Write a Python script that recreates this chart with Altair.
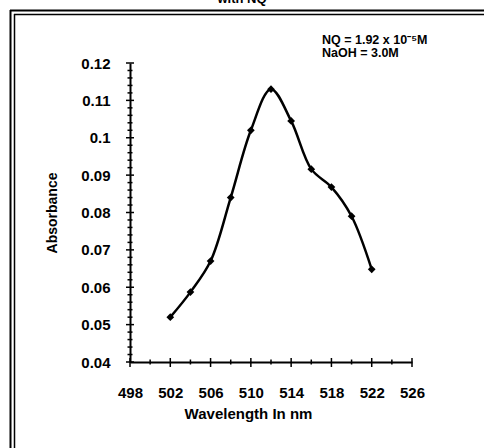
import altair as alt
import pandas as pd

wavelength = [502, 504, 506, 508, 510, 512, 514, 516, 518, 520, 522]
absorbance = [0.052, 0.0587, 0.067, 0.084, 0.102, 0.113, 0.1045, 0.0916, 0.0868, 0.079, 0.0648]

x_major = [498, 502, 506, 510, 514, 518, 522, 526]
x_minor = [500, 504, 508, 512, 516, 520, 524]
y_major = [0.04, 0.05, 0.06, 0.07, 0.08, 0.09, 0.1, 0.11, 0.12]
y_minor = [0.042, 0.044, 0.046, 0.048, 0.052, 0.054, 0.056, 0.058,
           0.062, 0.064, 0.066, 0.068, 0.072, 0.074, 0.076, 0.078,
           0.082, 0.084, 0.086, 0.088, 0.092, 0.094, 0.096, 0.098,
           0.102, 0.104, 0.106, 0.108, 0.112, 0.114, 0.116, 0.118]

note_line1 = "NQ = 1.92  x 10\u207b\u2075M"
note_line2 = "NaOH = 3.0M"
top_title = "with NQ"

df = pd.DataFrame({"wl": wavelength, "abs": absorbance})
FONT = "Liberation Sans"

x_scale = alt.Scale(domain=[498, 526], nice=False, zero=False)
y_scale = alt.Scale(domain=[0.04, 0.12], nice=False, zero=False)
x_axis = alt.Axis(
    values=x_major,
    ticks=False,
    tickSize=0,
    labelOverlap=False,
    labelFlush=False,
    labelPadding=23,
    title="Wavelength In nm",
    titleX=118,
    titleY=51,
    titleBaseline="middle",
    titleFontSize=15,
    grid=False,
)
y_axis = alt.Axis(
    values=y_major,
    labelExpr="format(datum.value, '.2~f')",
    ticks=False,
    tickSize=0,
    labelOverlap=False,
    labelFlush=False,
    labelPadding=20,
    title="Absorbance",
    titlePadding=21,
    titleFontSize=14,
    grid=False,
)

base = alt.Chart(df)
line = base.mark_line(interpolate="catmull-rom", color="black", strokeWidth=2.5).encode(
    x=alt.X("wl:Q", scale=x_scale, axis=x_axis), y=alt.Y("abs:Q", scale=y_scale, axis=y_axis))
pts = base.mark_point(shape="diamond", filled=True, color="black", size=60, opacity=1).encode(
    x=alt.X("wl:Q", scale=x_scale, axis=x_axis), y=alt.Y("abs:Q", scale=y_scale, axis=y_axis))

ymaj = alt.Chart(pd.DataFrame({"v": y_major})).mark_rule(color="black", strokeWidth=1.5).encode(
    y=alt.Y("v:Q", scale=y_scale, axis=y_axis), x=alt.value(-4), x2=alt.value(4))
ymin = alt.Chart(pd.DataFrame({"v": y_minor})).mark_rule(color="black", strokeWidth=1.5).encode(
    y=alt.Y("v:Q", scale=y_scale, axis=y_axis), x=alt.value(-2.5), x2=alt.value(2.5))
xmaj = alt.Chart(pd.DataFrame({"v": x_major})).mark_rule(color="black", strokeWidth=1.5).encode(
    x=alt.X("v:Q", scale=x_scale, axis=x_axis), y=alt.value(295), y2=alt.value(304))
xmin = alt.Chart(pd.DataFrame({"v": x_minor})).mark_rule(color="black", strokeWidth=1.5).encode(
    x=alt.X("v:Q", scale=x_scale, axis=x_axis), y=alt.value(296.5), y2=alt.value(301.5))

one = alt.Chart(pd.DataFrame({"k": [1]}))
text_style = dict(align="left", baseline="middle", font=FONT, fontSize=12.5, fontWeight="bold", color="black")
n1 = one.mark_text(text=note_line1, **text_style).encode(x=alt.value(192), y=alt.value(-23))
n2 = one.mark_text(text=note_line2, **text_style).encode(x=alt.value(192), y=alt.value(-10))

ttl = one.mark_text(
    text=top_title, align="center", baseline="bottom", font=FONT, fontSize=13, fontWeight="bold", color="black"
).encode(x=alt.value(112), y=alt.value(-57))

b1 = one.mark_rule(color="black", strokeWidth=2).encode(x=alt.value(-120), x2=alt.value(360), y=alt.value(-52.5))
b2 = one.mark_rule(color="black", strokeWidth=1.5).encode(x=alt.value(-116), x2=alt.value(360), y=alt.value(-48.5))
b3 = one.mark_rule(color="black", strokeWidth=2).encode(x=alt.value(-119.5), y=alt.value(-53), y2=alt.value(400))
b4 = one.mark_rule(color="black", strokeWidth=1.5).encode(x=alt.value(-115.5), y=alt.value(-49), y2=alt.value(400))

chart = alt.layer(line, pts, ymaj, ymin, xmaj, xmin, n1, n2, ttl, b1, b2, b3, b4).properties(
    width=282, height=299,
    autosize=alt.AutoSizeParams(type="none"),
    padding={"left": 130, "top": 63, "right": 72, "bottom": 86},
).configure_view(stroke=None).configure_axis(
    domainColor="black", domainWidth=2,
    labelFont=FONT, labelFontSize=15, labelFontWeight="bold", labelColor="black",
    titleFont=FONT, titleFontWeight="bold", titleColor="black",
)

chart.save("out.html", embed_options={"renderer": "svg", "actions": False})
